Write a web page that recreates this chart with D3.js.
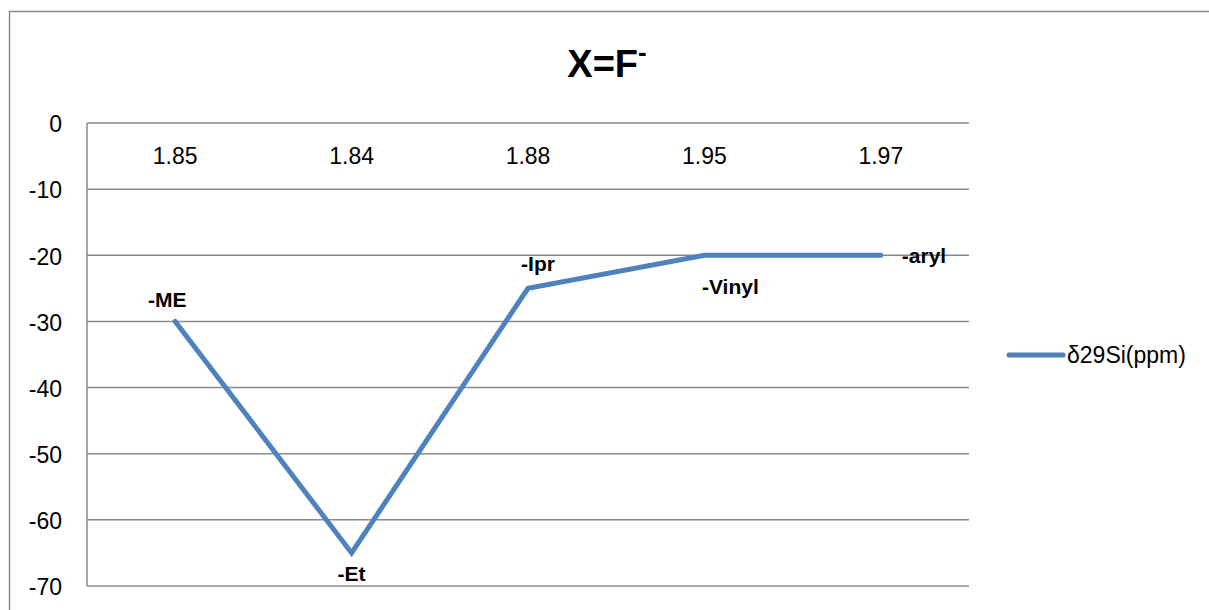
<!DOCTYPE html>
<html>
<head>
<meta charset="utf-8">
<script src="https://cdn.jsdelivr.net/npm/d3@7"></script>
<style>
  html, body { margin: 0; padding: 0; background: #fff; }
  svg { display: block; font-family: "Liberation Sans", Arial, sans-serif; }
</style>
</head>
<body>
<svg id="chart" width="1209" height="610"></svg>
<script>
// Substituent categories (x), σ values shown along the axis, δ29Si shifts (ppm)
const categories = ["-ME", "-Et", "-Ipr", "-Vinyl", "-aryl"];
const tickLabels = ["1.85", "1.84", "1.88", "1.95", "1.97"];
const shiftValues = [-30, -65, -25, -20, -20];
const yTicks = [0, -10, -20, -30, -40, -50, -60, -70];
const seriesName = "δ29Si(ppm)";

// Placement of each point label relative to its point
const labelPlacement = [
  { anchor: "middle", dx: -8, dy: -14 },
  { anchor: "middle", dx: 0, dy: 28 },
  { anchor: "middle", dx: 10, dy: -17 },
  { anchor: "middle", dx: 26, dy: 39 },
  { anchor: "start", dx: 21, dy: 8 }
];

const svg = d3.select("#chart");
const W = 1209;
const plot = { left: 87, right: 969, top: 123, bottom: 586 };
const lineColor = "#4F81BD";
const gridColor = "#8a8a8a";

// Chart frame
svg.append("path")
  .attr("d", `M9.5,610 L9.5,11.5 L${W},11.5`)
  .attr("fill", "none")
  .attr("stroke", "#8c8c8c")
  .attr("stroke-width", 1.5);

// Title with superscript minus
const title = svg.append("text")
  .attr("x", 607)
  .attr("y", 77)
  .attr("text-anchor", "middle")
  .attr("font-size", 38)
  .attr("font-weight", "bold")
  .attr("fill", "#000");
title.append("tspan").text("X=F");
title.append("tspan").attr("dy", -16).attr("font-size", 26).text("-");

const x = d3.scaleBand()
  .domain(categories)
  .range([plot.left, plot.right])
  .paddingInner(0).paddingOuter(0);

const y = d3.scaleLinear()
  .domain([0, -70])
  .range([plot.top, plot.bottom]);

// Horizontal gridlines
svg.append("g")
  .selectAll("line")
  .data(yTicks)
  .join("line")
  .attr("x1", plot.left)
  .attr("x2", plot.right)
  .attr("y1", d => y(d))
  .attr("y2", d => y(d))
  .attr("stroke", gridColor)
  .attr("stroke-width", 1.5);

// Vertical value axis line
svg.append("line")
  .attr("x1", plot.left).attr("x2", plot.left)
  .attr("y1", plot.top).attr("y2", plot.bottom)
  .attr("stroke", gridColor)
  .attr("stroke-width", 1.5);

// Value axis labels (plain hyphen-minus)
const yAxis = d3.axisLeft(y).tickValues(yTicks).tickSize(0).tickPadding(25)
  .tickFormat(d => String(d));
const yg = svg.append("g")
  .attr("transform", `translate(${plot.left},0)`)
  .call(yAxis);
yg.select(".domain").remove();
yg.selectAll("text")
  .attr("font-size", 23)
  .attr("font-family", "Liberation Sans, Arial, sans-serif")
  .attr("fill", "#000")
  .attr("dy", "0.38em");

// Category axis labels sit just below the zero line
const xLabelScale = d3.scaleOrdinal().domain(categories).range(tickLabels);
const xAxis = d3.axisBottom(x).tickSize(0).tickPadding(25).tickFormat(d => xLabelScale(d));
const xg = svg.append("g")
  .attr("transform", `translate(0,${y(0)})`)
  .call(xAxis);
xg.select(".domain").remove();
xg.selectAll("text")
  .attr("font-size", 23)
  .attr("font-family", "Liberation Sans, Arial, sans-serif")
  .attr("fill", "#000");

// Series line
const pts = categories.map((c, i) => ({ c, v: shiftValues[i], i }));
const line = d3.line()
  .x(d => x(d.c) + x.bandwidth() / 2)
  .y(d => y(d.v));

svg.append("path")
  .datum(pts)
  .attr("d", line)
  .attr("fill", "none")
  .attr("stroke", lineColor)
  .attr("stroke-width", 5)
  .attr("stroke-linejoin", "miter")
  .attr("stroke-linecap", "round");

// Point labels
svg.append("g")
  .selectAll("text")
  .data(pts)
  .join("text")
  .attr("x", d => x(d.c) + x.bandwidth() / 2 + labelPlacement[d.i].dx)
  .attr("y", d => y(d.v) + labelPlacement[d.i].dy)
  .attr("text-anchor", d => labelPlacement[d.i].anchor)
  .attr("font-size", 21)
  .attr("font-weight", "bold")
  .attr("fill", "#000")
  .text(d => d.c);

// Legend
const legend = svg.append("g").attr("transform", "translate(1009,355)");
legend.append("line")
  .attr("x1", 0).attr("x2", 54)
  .attr("y1", 0).attr("y2", 0)
  .attr("stroke", lineColor)
  .attr("stroke-width", 5)
  .attr("stroke-linecap", "round");
legend.append("text")
  .attr("x", 58)
  .attr("y", 8)
  .attr("font-size", 23)
  .attr("fill", "#000")
  .text(seriesName);
</script>
</body>
</html>
